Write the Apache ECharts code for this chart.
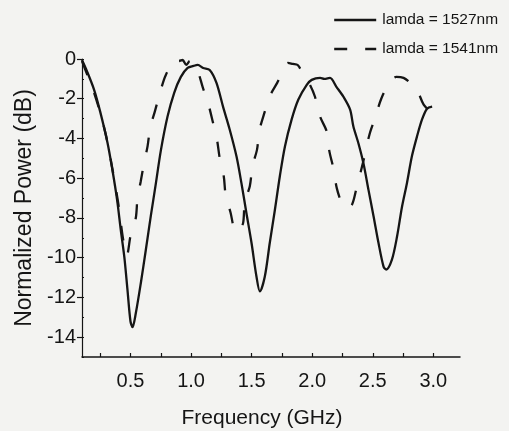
<!DOCTYPE html>
<html>
<head>
<meta charset="utf-8">
<script src="https://cdn.jsdelivr.net/npm/echarts@6/dist/echarts.min.js"></script>
<style>
  html, body { margin: 0; padding: 0; background: #f3f3f1; }
  #chart { width: 509px; height: 431px; }
</style>
</head>
<body>
<div id="chart"></div>
<script>
// lamda = 1527nm (solid)
const freq1527 = [0.10, 0.14, 0.20, 0.25, 0.31, 0.35, 0.39, 0.42, 0.45, 0.475, 0.50, 0.517, 0.544, 0.585,
  0.627, 0.668, 0.71, 0.751, 0.806, 0.861, 0.916, 0.972, 1.02, 1.055, 1.10, 1.154, 1.21, 1.264, 1.319,
  1.375, 1.416, 1.457, 1.499, 1.54, 1.568, 1.609, 1.65, 1.692, 1.733, 1.775, 1.83, 1.885, 1.955, 1.996,
  2.065, 2.10, 2.147, 2.20, 2.258, 2.313, 2.34, 2.382, 2.423, 2.465, 2.506, 2.547, 2.589, 2.611, 2.658,
  2.70, 2.741, 2.782, 2.823, 2.865, 2.906, 2.948, 2.99]
const power1527 = [-0.05, -0.6, -1.55, -2.65, -4.2, -5.55, -7.1, -8.6, -10.0, -11.6, -13.2, -13.5, -12.8, -11.3,
  -9.6, -7.9, -6.25, -4.6, -2.9, -1.7, -0.9, -0.45, -0.35, -0.3, -0.45, -0.55, -1.2, -2.4, -3.55,
  -4.9, -6.25, -7.75, -9.25, -10.95, -11.7, -10.95, -9.25, -7.6, -5.9, -4.4, -3.05, -2.05, -1.3, -1.05,
  -0.95, -1.0, -0.95, -1.4, -1.9, -2.55, -3.4, -4.25, -5.25, -6.6, -7.9, -9.25, -10.45, -10.6, -10.1,
  -8.95, -7.45, -6.25, -4.9, -3.9, -3.05, -2.5, -2.4]

// lamda = 1541nm (dashed)
const freq1541 = [0.10, 0.15, 0.20, 0.25, 0.30, 0.35, 0.40, 0.44, 0.47, 0.502, 0.544, 0.558, 0.585, 0.613,
  0.641, 0.663, 0.701, 0.746, 0.792, 0.87, 0.90, 0.93, 0.96, 0.99, 1.02, 1.05, 1.098, 1.14, 1.181, 1.214,
  1.237, 1.27, 1.286, 1.325, 1.369, 1.40, 1.43, 1.444, 1.485, 1.507, 1.545, 1.562, 1.601, 1.656, 1.711,
  1.76, 1.80, 1.84, 1.88, 1.93, 1.982, 2.023, 2.065, 2.12, 2.142, 2.175, 2.203, 2.244, 2.28, 2.327, 2.362,
  2.42, 2.473, 2.52, 2.57, 2.636, 2.694, 2.754, 2.81, 2.865, 2.92, 2.975]
const power1541 = [-0.1, -0.9, -1.7, -2.7, -3.9, -5.5, -7.3, -9.1, -9.9, -8.85, -8.0, -7.0, -6.15, -5.2,
  -4.4, -3.45, -2.65, -1.65, -0.8, -0.05, -0.1, -0.05, -0.3, -0.1, -0.3, -0.5, -1.45, -2.2, -3.2, -4.05,
  -5.0, -5.9, -6.85, -7.7, -8.7, -8.6, -8.25, -7.2, -6.4, -5.4, -4.55, -3.65, -2.8, -1.8, -1.2,
  -0.6, -0.2, -0.25, -0.3, -0.8, -1.3, -1.9, -2.9, -3.65, -4.65, -5.5, -6.5, -7.25, -7.5, -7.35, -6.6,
  -5.2, -3.8, -2.95, -2.0, -1.2, -0.9, -0.95, -1.2, -1.55, -2.3, -2.65]

const xLabels = [0.5, 1.0, 1.5, 2.0, 2.5, 3.0]
const xTicks = [0.25, 0.5, 0.75, 1.0, 1.25, 1.5, 1.75, 2.0, 2.25, 2.5, 2.75, 3.0]
const yLabels = [0, -2, -4, -6, -8, -10, -12, -14]
const yMinor = [0, -1, -2, -3, -4, -5, -6, -7, -8, -9, -10, -11, -12, -13, -14, -15]

const ink = '#151515'
const font = 'Liberation Sans, Arial, sans-serif'

const pairs = (xs, ys) => xs.map((x, i) => [x, ys[i]])

const chart = echarts.init(document.getElementById('chart'))
chart.setOption({
  backgroundColor: '#f3f3f1',
  animation: false,
  color: [ink, ink],
  grid: { left: 82, right: 49, top: 59, bottom: 74, outerBoundsMode: 'none' },
  legend: {
    orient: 'vertical',
    left: 328,
    top: 7,
    itemWidth: 42,
    itemHeight: 14,
    itemGap: 13,
    textStyle: { color: ink, fontFamily: font, fontSize: 15.5, padding: [0, 0, 0, 1] },
    data: [
      { name: 'lamda = 1527nm', itemStyle: { opacity: 0 }, lineStyle: { color: ink, width: 2.4, type: 'solid' } },
      { name: 'lamda = 1541nm', itemStyle: { opacity: 0 }, lineStyle: { color: ink, width: 2.4, type: [13, 18] } }
    ]
  },
  xAxis: {
    type: 'value',
    min: 0.1,
    max: 3.22,
    name: 'Frequency (GHz)',
    nameLocation: 'middle',
    nameGap: 51,
    nameTextStyle: { color: ink, fontFamily: font, fontSize: 21, padding: [0, 18, 0, 0] },
    splitLine: { show: false },
    axisLine: { onZero: false, lineStyle: { color: ink, width: 1.5 } },
    axisTick: { inside: true, length: 4, customValues: xTicks, lineStyle: { color: ink, width: 1.2 } },
    axisLabel: { customValues: xLabels, color: ink, fontFamily: font, fontSize: 20, margin: 14,
      formatter: v => v.toFixed(1) }
  },
  yAxis: [{
    type: 'value',
    min: -15,
    max: 0,
    name: 'Normalized Power (dB)',
    nameLocation: 'middle',
    nameGap: 46,
    nameTextStyle: { color: ink, fontFamily: font, fontSize: 23 },
    splitLine: { show: false },
    axisLine: { show: true, onZero: false, lineStyle: { color: ink, width: 1.2 } },
    axisTick: { show: true, length: 5, customValues: yLabels, lineStyle: { color: ink, width: 1.2 } },
    axisLabel: { customValues: yLabels, color: ink, fontFamily: font, fontSize: 20, margin: 6 }
  }, {
    type: 'value',
    min: -15,
    max: 0,
    position: 'left',
    splitLine: { show: false },
    axisLine: { show: false, onZero: false },
    axisTick: { show: true, inside: true, length: 2, customValues: yMinor, lineStyle: { color: ink, width: 1 } },
    axisLabel: { show: false }
  }],
  series: [{
    name: 'lamda = 1527nm',
    type: 'line',
    data: pairs(freq1527, power1527),
    symbol: 'none',
    smooth: 0.3,
    lineStyle: { color: ink, width: 2.3 }
  }, {
    name: 'lamda = 1541nm',
    type: 'line',
    data: pairs(freq1541, power1541),
    symbol: 'none',
    smooth: 0.3,
    lineStyle: { color: ink, width: 2.3, type: [15, 19] }
  }]
})
</script>
</body>
</html>
